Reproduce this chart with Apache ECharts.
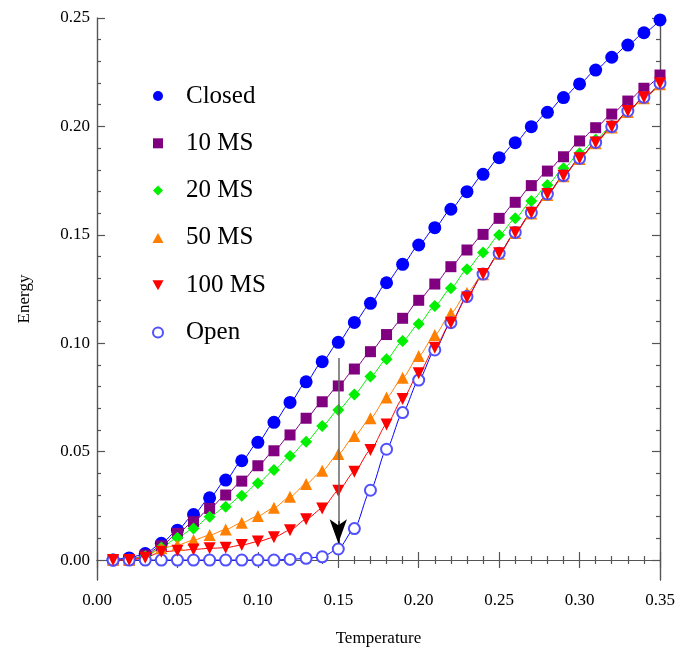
<!DOCTYPE html>
<html>
<head>
<meta charset="utf-8">
<script src="https://cdn.jsdelivr.net/npm/echarts@6/dist/echarts.min.js"></script>
<style>
    * { margin: 0; padding: 0; }
    body { background: #fff; }
    #chart { width: 680px; height: 655px; }
</style>
</head>
<body>
<div id="chart"></div>
<script>
    // temperatures (x)
    var temps = [0.01, 0.02, 0.03, 0.04, 0.05, 0.06, 0.07, 0.08, 0.09, 0.10,
                 0.11, 0.12, 0.13, 0.14, 0.15, 0.16, 0.17, 0.18, 0.19, 0.20,
                 0.21, 0.22, 0.23, 0.24, 0.25, 0.26, 0.27, 0.28, 0.29, 0.30,
                 0.31, 0.32, 0.33, 0.34, 0.35];

    // energy per series
    var closedE = [0.000, 0.001, 0.003, 0.0077, 0.0138, 0.0210, 0.0287, 0.0369, 0.0458, 0.0543,
                   0.0635, 0.0727, 0.0822, 0.0915, 0.1004, 0.1096, 0.1184, 0.1279, 0.1364, 0.1453,
                   0.1533, 0.1618, 0.1699, 0.1779, 0.1856, 0.1925, 0.1999, 0.2065, 0.2133, 0.2196,
                   0.2260, 0.2319, 0.2375, 0.2432, 0.2491];
    var ms10E = [0.000, 0.000, 0.0023, 0.0066, 0.0123, 0.0177, 0.0238, 0.0300, 0.0364, 0.0435,
                 0.0504, 0.0577, 0.0654, 0.0730, 0.0803, 0.0881, 0.0961, 0.1040, 0.1115, 0.1198,
                 0.1273, 0.1353, 0.1430, 0.1502, 0.1576, 0.1650, 0.1727, 0.1794, 0.1860, 0.1933,
                 0.1994, 0.2057, 0.2117, 0.2176, 0.2237];
    var ms20E = [0.000, 0.000, 0.0018, 0.0058, 0.0103, 0.0146, 0.0200, 0.0246, 0.0297, 0.0354,
                 0.0415, 0.0480, 0.0546, 0.0618, 0.0692, 0.0764, 0.0846, 0.0926, 0.1010, 0.1089,
                 0.1172, 0.1254, 0.1341, 0.1418, 0.1499, 0.1576, 0.1656, 0.1730, 0.1807, 0.1876,
                 0.1940, 0.2003, 0.2068, 0.2134, 0.2199];
    var ms50E = [0.000, 0.000, 0.0015, 0.0054, 0.0069, 0.0092, 0.0115, 0.0141, 0.0172, 0.0203,
                 0.0241, 0.0292, 0.0351, 0.0412, 0.0489, 0.0572, 0.0654, 0.0750, 0.0841, 0.0941,
                 0.1038, 0.1138, 0.1233, 0.1318, 0.1413, 0.1508, 0.1598, 0.1684, 0.1770, 0.1850,
                 0.1922, 0.1995, 0.2067, 0.2130, 0.2195];
    var ms100E = [0.000, 0.000, 0.0011, 0.0038, 0.0043, 0.0049, 0.0054, 0.0057, 0.0069, 0.0085,
                  0.0105, 0.0138, 0.0188, 0.0238, 0.0320, 0.0407, 0.0507, 0.0625, 0.0743, 0.0861,
                  0.0979, 0.1095, 0.1211, 0.1319, 0.1415, 0.1511, 0.1602, 0.1688, 0.1773, 0.1853,
                  0.1926, 0.1999, 0.2071, 0.2134, 0.2199];
    var openE = [0.000, 0.000, 0.000, 0.000, 0.000, 0.000, 0.000, 0.000, 0.000, 0.000,
                 0.000, 0.0003, 0.0008, 0.0015, 0.0051, 0.0145, 0.0322, 0.0511, 0.0680, 0.0830,
                 0.0969, 0.1095, 0.1215, 0.1319, 0.1415, 0.1511, 0.1602, 0.1688, 0.1773, 0.1853,
                 0.1926, 0.1999, 0.2071, 0.2134, 0.2199];

    // tick values
    var yMajorTicks = [0, 0.05, 0.10, 0.15, 0.20, 0.25];
    var yMinorTicks = [0.01, 0.02, 0.03, 0.04, 0.06, 0.07, 0.08, 0.09, 0.11, 0.12, 0.13, 0.14,
                       0.16, 0.17, 0.18, 0.19, 0.21, 0.22, 0.23, 0.24];

    // arrow at T = 0.15: shaft start, head start, tip
    var arrowFrom = [0.15, 0.0932];
    var arrowHead = [0.15, 0.0180];
    var arrowTo = [0.15, 0.0077];

    var font = 'Liberation Serif';
    var frame = { color: '#555', width: 1.2 };

    function pairs(ys) {
        return temps.map(function (t, i) { return [t, ys[i]]; });
    }

    function xAxisOf(pos, withLabel) {
        return {
            type: 'value',
            position: pos,
            min: 0,
            max: 0.35,
            interval: 0.05,
            name: withLabel ? 'Temperature' : '',
            nameLocation: 'middle',
            nameGap: 50,
            nameTextStyle: { fontFamily: font, fontSize: 17, color: '#000' },
            axisLine: { show: true, lineStyle: frame },
            axisTick: { show: true, inside: true, length: 8, lineStyle: frame },
            minorTick: { show: true, splitNumber: 5, length: 4, lineStyle: frame },
            axisLabel: {
                show: withLabel, margin: 12, fontFamily: font, fontSize: 17, color: '#000',
                formatter: function (v) { return v.toFixed(2); }
            },
            splitLine: { show: false },
            minorSplitLine: { show: false }
        };
    }

    function yAxisOf(pos, ticks, len, withLabel) {
        return {
            type: 'value',
            position: pos,
            offset: 0,
            min: -0.0092,
            max: 0.25,
            name: withLabel ? 'Energy' : '',
            nameLocation: 'middle',
            nameGap: 64,
            nameTextStyle: { fontFamily: font, fontSize: 17, color: '#000' },
            axisLine: { show: true, onZero: false, lineStyle: frame },
            axisTick: { show: true, inside: true, length: len, customValues: ticks, lineStyle: frame },
            axisLabel: {
                show: withLabel, margin: 7, fontFamily: font, fontSize: 17, color: '#000',
                customValues: ticks,
                formatter: function (v) { return v.toFixed(2); }
            },
            splitLine: { show: false }
        };
    }

    function lineSeries(name, data, color, symbol, size, extra) {
        var s = {
            name: name,
            type: 'line',
            data: pairs(data),
            symbol: symbol,
            symbolSize: size,
            smooth: 0.25,
            smoothMonotone: 'x',
            showAllSymbol: true,
            lineStyle: { color: color, width: 1 },
            itemStyle: { color: color },
            emphasis: { disabled: true }
        };
        for (var k in extra) s[k] = extra[k];
        return s;
    }

    var option = {
        animation: false,
        backgroundColor: '#fff',
        grid: { left: 97, right: 20, top: 18, bottom: 75, outerBoundsMode: 'none' },
        legend: {
            orient: 'vertical',
            left: 152,
            top: 82,
            padding: 0,
            itemWidth: 46,
            itemHeight: 10,
            itemGap: 19.3,
            selectedMode: false,
            textStyle: { fontFamily: font, fontSize: 25, lineHeight: 28, color: '#000' },
            data: [
                { name: 'Closed', icon: 'circle' },
                { name: '10 MS', icon: 'path://M0,0L10,0L10,10L0,10Z' },
                { name: '20 MS', icon: 'path://M5,0L10,5L5,10L0,5Z' },
                { name: '50 MS', icon: 'path://M5,0L10,9L0,9Z' },
                { name: '100 MS', icon: 'path://M0,0L10,0L5,9Z' },
                { name: 'Open', icon: 'emptyCircle' }
            ]
        },
        xAxis: [xAxisOf('bottom', true), xAxisOf('top', false)],
        yAxis: [
            yAxisOf('left', yMajorTicks, 8, true),
            yAxisOf('left', yMinorTicks, 4, false),
            yAxisOf('right', yMajorTicks, 8, false),
            yAxisOf('right', yMinorTicks, 4, false)
        ],
        series: [
            lineSeries('Closed', closedE, '#0000ff', 'circle', 13, {}),
            lineSeries('10 MS', ms10E, '#800080', 'rect', 11, {}),
            lineSeries('20 MS', ms20E, '#00f000', 'diamond', 12, {}),
            lineSeries('50 MS', ms50E, '#ff8000', 'triangle', 12, {}),
            lineSeries('Open', openE, '#0000ff', 'emptyCircle', 11, {
                itemStyle: { color: '#5050ff', borderWidth: 1 },
                markLine: {
                    silent: true,
                    label: { show: false },
                    symbolSize: [13, 24],
                    data: [
                        // gray shaft
                        [{ coord: arrowFrom, symbol: 'none' },
                         { coord: arrowHead, symbol: 'none', lineStyle: { color: '#666', width: 1.5, type: 'solid' } }],
                        // black head
                        [{ coord: arrowHead, symbol: 'none' },
                         { coord: arrowTo, symbol: 'arrow', symbolSize: [13, 24], lineStyle: { color: '#000', width: 1.5, type: 'solid' } }]
                    ],
                    lineStyle: { color: '#666', width: 1.5, type: 'solid' }
                }
            }),
            lineSeries('100 MS', ms100E, '#ff0000', 'triangle', 12, { symbolRotate: 180 })
        ]
    };

    var myChart = echarts.init(document.getElementById('chart'));
    myChart.setOption(option);
</script>
</body>
</html>
